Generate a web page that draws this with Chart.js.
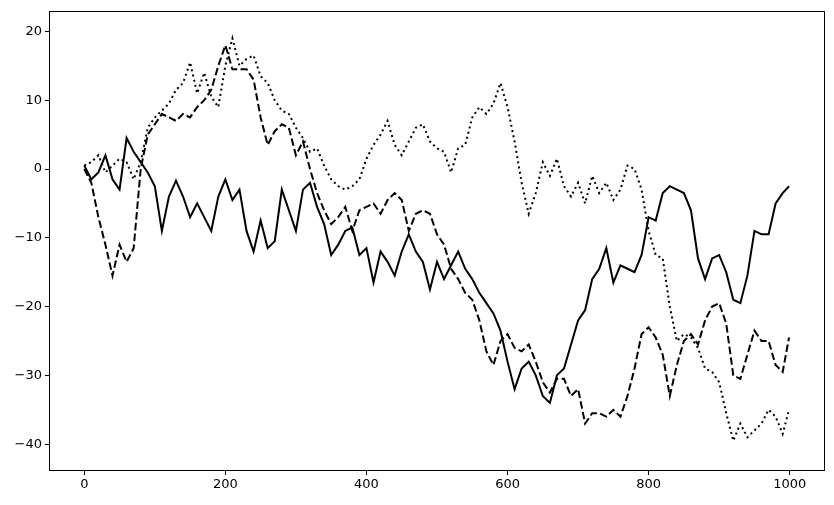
<!DOCTYPE html>
<html>
<head>
<meta charset="utf-8">
<script src="https://cdn.jsdelivr.net/npm/chart.js@4"></script>
<style>
  html, body { margin: 0; padding: 0; background: #fff; }
  canvas { display: block; }
</style>
</head>
<body>
<canvas id="Chart" width="834" height="505"></canvas>
<script>
// step positions along the walk
const steps = [0,10,20,30,40,50,60,70,80,90,
  100,110,120,130,140,150,160,170,180,190,
  200,210,220,230,240,250,260,270,280,290,
  300,310,320,330,340,350,360,370,380,390,
  400,410,420,430,440,450,460,470,480,490,
  500,510,520,530,540,550,560,570,580,590,
  600,610,620,630,640,650,660,670,680,690,
  700,710,720,730,740,750,760,770,780,790,
  800,810,820,830,840,850,860,870,880,890,
  900,910,920,930,940,950,960,970,980,990,999];

const solidWalk = [0.5,-1.5,-0.5,2.0,-1.5,-3.0,4.5,2.5,1.0,-0.5,
  -2.5,-9.0,-4.0,-1.7,-4.0,-7.0,-5.0,-7.0,-9.0,-4.0,
  -1.5,-4.5,-3.0,-9.0,-12.0,-7.5,-11.5,-10.5,-3.0,-6.0,
  -9.0,-3.0,-2.0,-5.5,-8.0,-12.5,-11.0,-9.0,-8.5,-12.5,
  -11.5,-16.5,-12.0,-13.5,-15.5,-12.0,-9.5,-12.0,-13.5,-17.5,
  -13.5,-16.0,-14.0,-12.0,-14.5,-16.0,-18.0,-19.5,-21.0,-23.5,
  -28.0,-32.0,-29.0,-28.0,-30.0,-33.0,-34.0,-30.0,-29.0,-25.5,
  -22.0,-20.5,-16.0,-14.5,-11.5,-16.5,-14.0,-14.5,-15.0,-12.5,
  -7.0,-7.5,-3.5,-2.5,-3.0,-3.5,-6.0,-13.0,-16.0,-13.0,
  -12.5,-15.0,-19.0,-19.5,-15.5,-9.0,-9.5,-9.5,-5.0,-3.5,-2.5];

const dashedWalk = [0,-2,-7,-11,-15.5,-11,-13.5,-11.5,0,5,
  6.5,8,7.5,7,8,7.5,9,10,11.5,15,
  18,14.5,14.5,14.5,13,7.5,3.5,5.5,6.5,6,
  2,4,0,-3.5,-6,-8,-7,-5.5,-9,-6,
  -5.5,-5,-6.5,-4.5,-3.5,-4.5,-9,-6.5,-6,-6.5,
  -9.5,-11,-14.5,-16,-18,-19,-22,-26.5,-28.5,-25,
  -24,-26,-26.5,-25.5,-28,-31,-32.5,-30.5,-30.5,-33,
  -32,-37,-35.5,-35.5,-36,-35,-36,-33,-29,-24,
  -23,-24.5,-27,-33,-28.5,-25,-24,-25.5,-22,-20,
  -19.5,-22.5,-30,-30.5,-27,-23.5,-25,-25,-28.5,-29.5,-24.5];

const dottedWalk = [0.5,1,2,-0.5,0.5,1.5,1,-1.5,1,6,
  7.5,8.5,9.5,11.5,12.5,15.5,11,14,10.5,9,
  15,19,15,16,16.5,13.5,12.5,10,8.5,8,
  6,4.5,2.5,3,0.5,-1.5,-2.5,-3,-2.5,-1.5,
  1.5,3.5,5,7,3.5,2,4,6,6.5,4,
  3,2.5,-0.5,3,3.5,7.5,9,8,9.5,12.5,
  9,4,-2,-6.5,-3.5,1,-1,1.5,-2.5,-4,
  -2,-5,-1,-3.5,-2,-4.5,-3,0.5,0,-3,
  -9,-12.5,-13,-20,-25,-24,-24.5,-26,-29,-29.5,
  -31,-35.5,-39.5,-37,-39,-38,-37,-35,-36,-38.5,-35];

const xTicks = [0, 200, 400, 600, 800, 1000];
const yTicks = [-40, -30, -20, -10, 0, 10, 20];

const toPoints = (ys) => steps.map((x, i) => ({ x: x, y: ys[i] }));
const fmt = (v) => (v < 0 ? "\u2212" + Math.abs(v) : String(v));

// black box around the plot area, like matplotlib spines
const frame = {
  id: "frame",
  afterDraw(chart) {
    const { ctx, chartArea: a } = chart;
    ctx.save();
    ctx.strokeStyle = "#000";
    ctx.lineWidth = 1;
    ctx.strokeRect(Math.round(a.left) + 0.5, Math.round(a.top) + 0.5,
      Math.round(a.right - a.left) - 1, Math.round(a.bottom - a.top) - 1);
    ctx.restore();
  },
};

const tickFont = { family: "DejaVu Sans", size: 13 };

new Chart("Chart", {
  type: "line",
  data: {
    datasets: [
      { data: toPoints(solidWalk), borderColor: "#000", borderWidth: 2 },
      { data: toPoints(dashedWalk), borderColor: "#000", borderWidth: 2, borderDash: [7.5, 3.3] },
      { data: toPoints(dottedWalk), borderColor: "#000", borderWidth: 2, borderDash: [2, 3.3] },
    ],
  },
  options: {
    responsive: false,
    animation: false,
    devicePixelRatio: 1,
    layout: { padding: { top: 9, right: 9, left: 0, bottom: 0 } },
    elements: { point: { radius: 0 }, line: { tension: 0 } },
    plugins: { legend: { display: false }, tooltip: { enabled: false } },
    scales: {
      x: {
        type: "linear",
        min: -50,
        max: 1050,
        afterBuildTicks: (s) => { s.ticks = xTicks.map((v) => ({ value: v })); },
        afterFit: (s) => { s.height = 34; },
        ticks: { color: "#000", font: tickFont, padding: 2, maxRotation: 0, callback: fmt },
        grid: { drawOnChartArea: false, color: "#000", tickLength: 4 },
        border: { display: false },
      },
      y: {
        min: -43.9,
        max: 23.0,
        afterBuildTicks: (s) => { s.ticks = yTicks.map((v) => ({ value: v })); },
        afterFit: (s) => { s.width = 49; },
        ticks: { color: "#000", font: tickFont, padding: 3, callback: fmt },
        grid: { drawOnChartArea: false, color: "#000", tickLength: 4 },
        border: { display: false },
      },
    },
  },
  plugins: [frame],
});
</script>
</body>
</html>
